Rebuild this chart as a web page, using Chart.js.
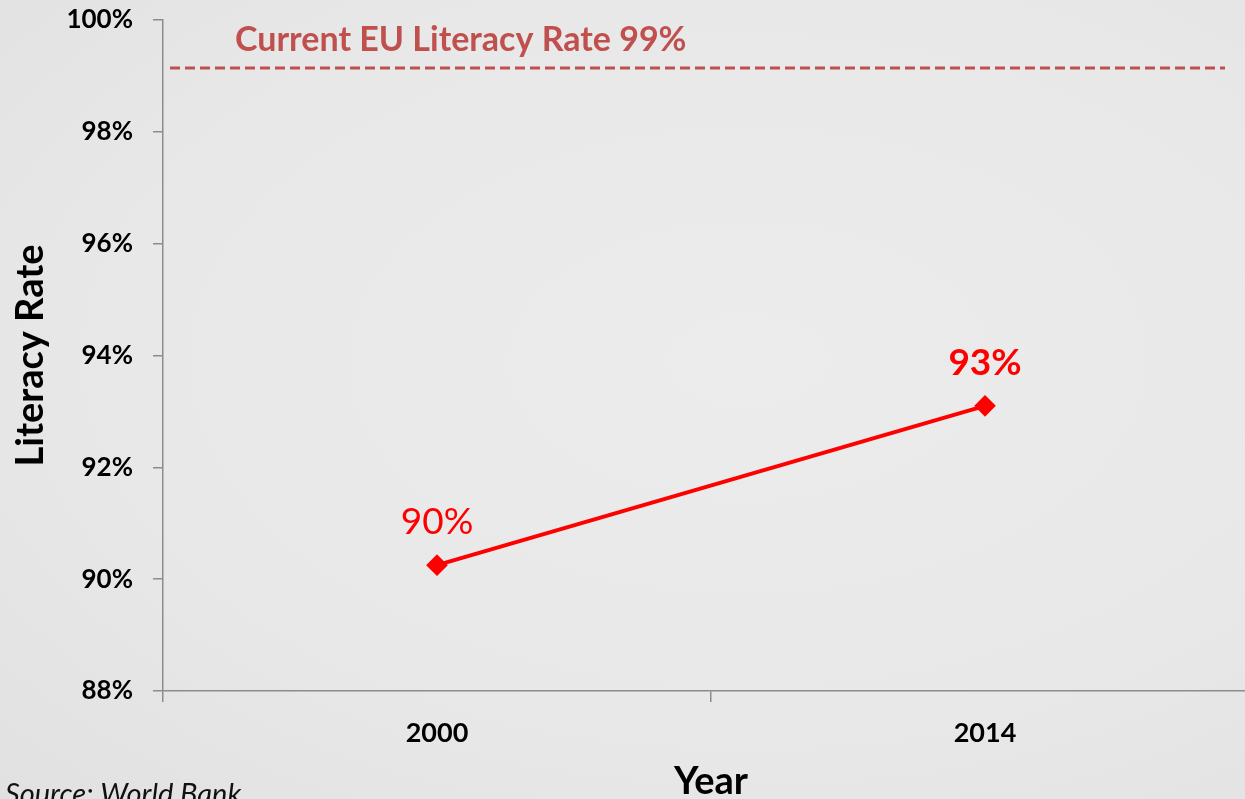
<!DOCTYPE html>
<html>
<head>
<meta charset="utf-8">
<script src="https://cdn.jsdelivr.net/npm/chart.js@4.4.1/dist/chart.umd.min.js"></script>
<style>
  html, body { margin: 0; padding: 0; width: 1245px; height: 799px; overflow: hidden; }
  body {
    background: radial-gradient(ellipse at 60% 45%, #ececec 0%, #e8e8e8 60%, #e1e1e1 100%);
  }
  #wrap { position: absolute; left: 0; top: 0; width: 1271px; height: 799px; }
</style>
</head>
<body>
<div id="wrap"><canvas id="chart" width="1271" height="799"></canvas></div>
<script>
// Literacy rate by year, in percent
const years = ['2000', '2014'];
const literacy = [90.25, 93.1];
// Current EU reference rate, in percent
const euRate = 99.14;
// Y axis range and step
const yMin = 88;
const yMax = 100;
const yStep = 2;

const FONT = 'Lato, "Open Sans", sans-serif';
const labelWeights = ['normal', 'bold'];

// Dashed reference line with its caption, point value labels and the source note
const overlays = {
  id: 'overlays',
  afterDatasetsDraw(chart) {
    const { ctx, chartArea, scales } = chart;
    const yRef = scales.y.getPixelForValue(euRate);
    ctx.save();
    ctx.strokeStyle = '#c0504d';
    ctx.lineWidth = 3;
    ctx.setLineDash([10, 5]);
    ctx.beginPath();
    ctx.moveTo(chartArea.left + 7, yRef);
    ctx.lineTo(1225, yRef);
    ctx.stroke();
    ctx.setLineDash([]);

    ctx.fillStyle = '#c0504d';
    ctx.font = 'bold 34px ' + FONT;
    ctx.textAlign = 'left';
    ctx.textBaseline = 'middle';
    ctx.fillText('Current EU Literacy Rate ' + Math.round(euRate) + '%', chartArea.left + 72, yRef - 28);

    const meta = chart.getDatasetMeta(0);
    ctx.fillStyle = '#ff0000';
    ctx.textAlign = 'center';
    meta.data.forEach((pt, i) => {
      ctx.font = labelWeights[i] + ' 37px ' + FONT;
      ctx.fillText(Math.round(literacy[i]) + '%', pt.x, pt.y - 43);
    });

    ctx.fillStyle = '#111';
    ctx.font = 'italic 29px ' + FONT;
    ctx.textAlign = 'left';
    ctx.textBaseline = 'alphabetic';
    ctx.fillText('Source: World Bank', 5, 804);
    ctx.restore();
  }
};

new Chart(document.getElementById('chart'), {
  type: 'line',
  data: {
    labels: years,
    datasets: [{
      data: literacy,
      borderColor: '#ff0000',
      backgroundColor: '#ff0000',
      borderWidth: 4,
      pointStyle: 'rectRot',
      pointRadius: 8,
      pointHoverRadius: 8,
      tension: 0
    }]
  },
  options: {
    responsive: false,
    animation: false,
    devicePixelRatio: 1,
    layout: { padding: { top: 20, right: 0, bottom: 0, left: 0 } },
    plugins: { legend: { display: false }, tooltip: { enabled: false } },
    scales: {
      x: {
        type: 'category',
        offset: true,
        grid: { offset: true, drawOnChartArea: false, drawTicks: true, tickLength: 11, color: '#8c8c8c', lineWidth: 1.5 },
        border: { display: true, color: '#8c8c8c', width: 1.5 },
        ticks: { color: '#000', font: { family: FONT, size: 27, weight: 'bold' }, padding: 15 },
        title: { display: true, text: 'Year', color: '#000', font: { family: FONT, size: 38, weight: 'bold' }, padding: { top: 0, bottom: -6 } },
        afterFit(scale) { scale.height = 108; }
      },
      y: {
        min: yMin,
        max: yMax,
        grid: { drawOnChartArea: false, drawTicks: true, tickLength: 10, color: '#8c8c8c', lineWidth: 1.5 },
        border: { display: true, color: '#8c8c8c', width: 1.5 },
        ticks: {
          stepSize: yStep,
          color: '#000',
          padding: 20,
          font: { family: FONT, size: 26, weight: 'bold' },
          callback: v => v + '%'
        },
        title: { display: true, text: 'Literacy Rate', color: '#000', font: { family: FONT, size: 38, weight: 'bold' }, padding: { top: 8, bottom: 0 } },
        afterFit(scale) {
          scale.width = 163;
          scale.paddingTop = 0;
          scale.paddingBottom = 0;
        }
      }
    }
  },
  plugins: [overlays]
});
</script>
</body>
</html>
